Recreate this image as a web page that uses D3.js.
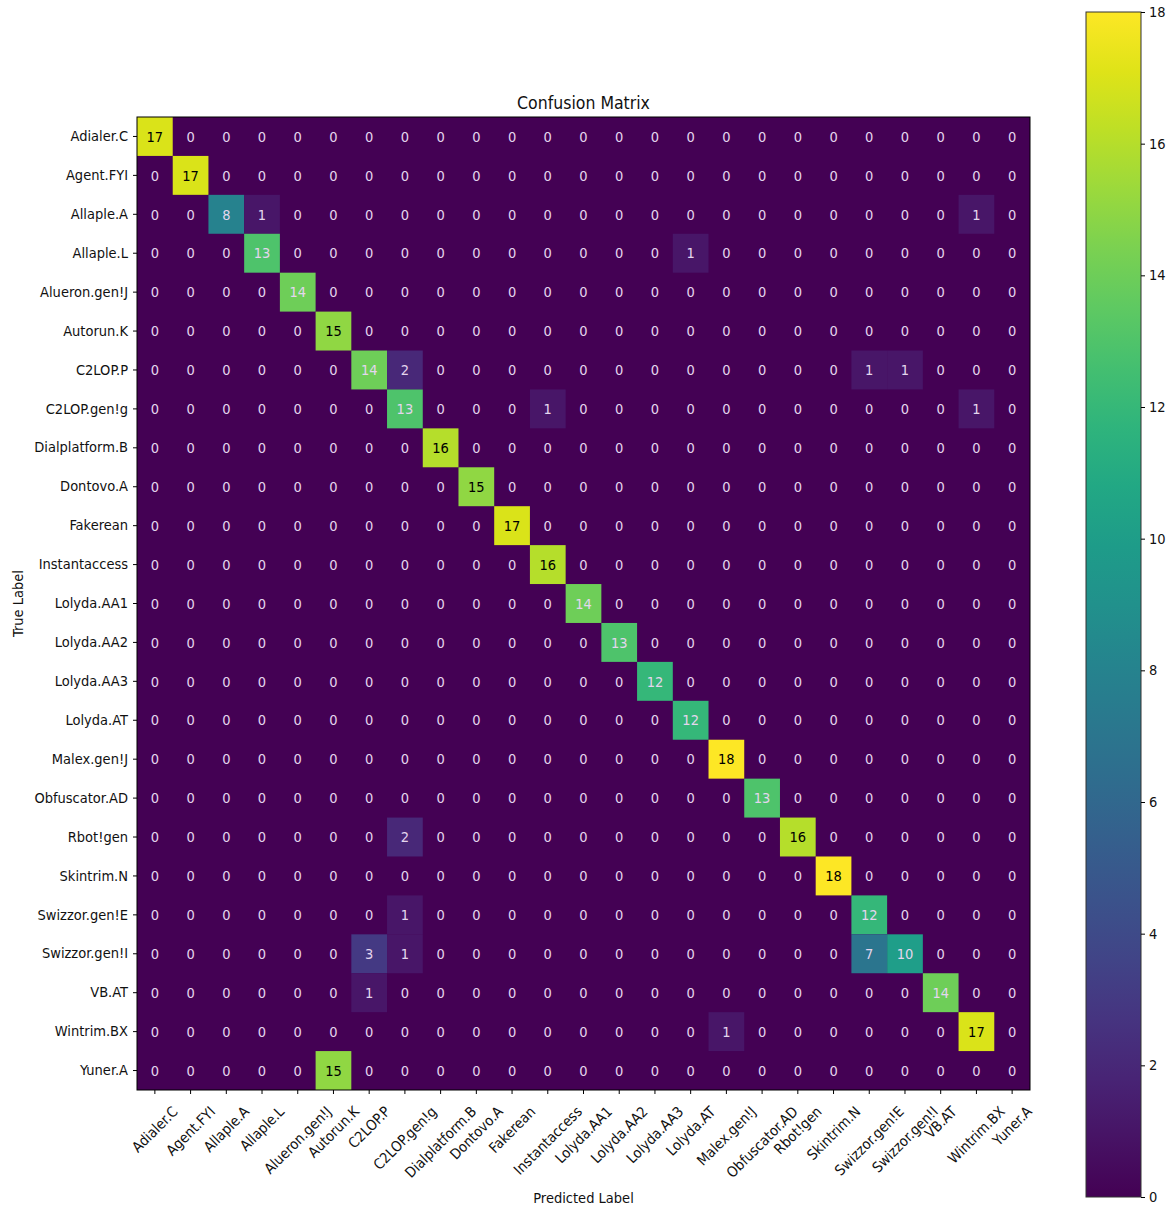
<!DOCTYPE html>
<html>
<head>
<meta charset="utf-8">
<script src="https://cdn.jsdelivr.net/npm/d3@7"></script>
<style>
  body { margin: 0; background: #fff; }
  text { font-family: "DejaVu Sans Condensed", "DejaVu Sans", sans-serif; font-stretch: condensed; }
</style>
</head>
<body>
<script>
// class names (same order for rows and columns)
const labels = ["Adialer.C","Agent.FYI","Allaple.A","Allaple.L","Alueron.gen!J","Autorun.K","C2LOP.P","C2LOP.gen!g",
  "Dialplatform.B","Dontovo.A","Fakerean","Instantaccess","Lolyda.AA1","Lolyda.AA2","Lolyda.AA3","Lolyda.AT",
  "Malex.gen!J","Obfuscator.AD","Rbot!gen","Skintrim.N","Swizzor.gen!E","Swizzor.gen!I","VB.AT","Wintrim.BX","Yuner.A"];

// confusion matrix, rows = true label, cols = predicted label
const matrix = [
  [17,0,0,0,0,0,0,0,0,0,0,0,0,0,0,0,0,0,0,0,0,0,0,0,0],
  [0,17,0,0,0,0,0,0,0,0,0,0,0,0,0,0,0,0,0,0,0,0,0,0,0],
  [0,0,8,1,0,0,0,0,0,0,0,0,0,0,0,0,0,0,0,0,0,0,0,1,0],
  [0,0,0,13,0,0,0,0,0,0,0,0,0,0,0,1,0,0,0,0,0,0,0,0,0],
  [0,0,0,0,14,0,0,0,0,0,0,0,0,0,0,0,0,0,0,0,0,0,0,0,0],
  [0,0,0,0,0,15,0,0,0,0,0,0,0,0,0,0,0,0,0,0,0,0,0,0,0],
  [0,0,0,0,0,0,14,2,0,0,0,0,0,0,0,0,0,0,0,0,1,1,0,0,0],
  [0,0,0,0,0,0,0,13,0,0,0,1,0,0,0,0,0,0,0,0,0,0,0,1,0],
  [0,0,0,0,0,0,0,0,16,0,0,0,0,0,0,0,0,0,0,0,0,0,0,0,0],
  [0,0,0,0,0,0,0,0,0,15,0,0,0,0,0,0,0,0,0,0,0,0,0,0,0],
  [0,0,0,0,0,0,0,0,0,0,17,0,0,0,0,0,0,0,0,0,0,0,0,0,0],
  [0,0,0,0,0,0,0,0,0,0,0,16,0,0,0,0,0,0,0,0,0,0,0,0,0],
  [0,0,0,0,0,0,0,0,0,0,0,0,14,0,0,0,0,0,0,0,0,0,0,0,0],
  [0,0,0,0,0,0,0,0,0,0,0,0,0,13,0,0,0,0,0,0,0,0,0,0,0],
  [0,0,0,0,0,0,0,0,0,0,0,0,0,0,12,0,0,0,0,0,0,0,0,0,0],
  [0,0,0,0,0,0,0,0,0,0,0,0,0,0,0,12,0,0,0,0,0,0,0,0,0],
  [0,0,0,0,0,0,0,0,0,0,0,0,0,0,0,0,18,0,0,0,0,0,0,0,0],
  [0,0,0,0,0,0,0,0,0,0,0,0,0,0,0,0,0,13,0,0,0,0,0,0,0],
  [0,0,0,0,0,0,0,2,0,0,0,0,0,0,0,0,0,0,16,0,0,0,0,0,0],
  [0,0,0,0,0,0,0,0,0,0,0,0,0,0,0,0,0,0,0,18,0,0,0,0,0],
  [0,0,0,0,0,0,0,1,0,0,0,0,0,0,0,0,0,0,0,0,12,0,0,0,0],
  [0,0,0,0,0,0,3,1,0,0,0,0,0,0,0,0,0,0,0,0,7,10,0,0,0],
  [0,0,0,0,0,0,1,0,0,0,0,0,0,0,0,0,0,0,0,0,0,0,14,0,0],
  [0,0,0,0,0,0,0,0,0,0,0,0,0,0,0,0,1,0,0,0,0,0,0,17,0],
  [0,0,0,0,0,15,0,0,0,0,0,0,0,0,0,0,0,0,0,0,0,0,0,0,0]
];

const colorTicks = [0,2,4,6,8,10,12,14,16,18];
const vmin = 0, vmax = 18;
const darkTextFrom = 15;

const W = 1172, H = 1205;
const mLeft = 137, mRight = 1030, mTop = 117, mBottom = 1090;
const cbLeft = 1086, cbRight = 1141, cbTop = 12, cbBottom = 1197;

const svg = d3.select("body").append("svg")
  .attr("width", W).attr("height", H);

const x = d3.scaleBand().domain(d3.range(labels.length)).range([mLeft, mRight]);
const y = d3.scaleBand().domain(d3.range(labels.length)).range([mTop, mBottom]);
const color = d3.scaleSequential(d3.interpolateViridis).domain([vmin, vmax]);

const cells = [];
matrix.forEach((row, i) => row.forEach((v, j) => cells.push({i, j, v})));

// background in the zero colour so no seams show between cells
svg.append("rect")
  .attr("x", mLeft).attr("y", mTop)
  .attr("width", mRight - mLeft).attr("height", mBottom - mTop)
  .attr("fill", color(0));

svg.append("g").selectAll("rect")
  .data(cells.filter(d => d.v > 0))
  .enter().append("rect")
  .attr("x", d => x(d.j))
  .attr("y", d => y(d.i))
  .attr("width", x.bandwidth())
  .attr("height", y.bandwidth())
  .attr("fill", d => color(d.v));

svg.append("g").selectAll("text")
  .data(cells)
  .enter().append("text")
  .attr("x", d => x(d.j) + x.bandwidth() / 2)
  .attr("y", d => y(d.i) + y.bandwidth() / 2)
  .attr("text-anchor", "middle")
  .attr("dy", "0.36em")
  .style("font-size", "14.5px")
  .attr("fill", d => d.v >= darkTextFrom ? "#000" : "#e4d6ee")
  .text(d => d.v);

// frame
svg.append("rect")
  .attr("x", mLeft).attr("y", mTop)
  .attr("width", mRight - mLeft).attr("height", mBottom - mTop)
  .attr("fill", "none").attr("stroke", "#000").attr("stroke-width", 1);

// y axis
const yAxis = svg.append("g")
  .attr("transform", `translate(${mLeft},0)`)
  .call(d3.axisLeft(y).tickFormat(i => labels[i]).tickSize(4).tickPadding(5).tickSizeOuter(0));
yAxis.select(".domain").remove();
yAxis.selectAll("text").style("font-size", "14.5px").attr("fill", "#111");

// x axis
const xAxis = svg.append("g")
  .attr("transform", `translate(0,${mBottom})`)
  .call(d3.axisBottom(x).tickFormat(i => labels[i]).tickSize(4).tickSizeOuter(0));
xAxis.select(".domain").remove();
xAxis.selectAll("text")
  .style("font-size", "14.5px")
  .attr("fill", "#111")
  .attr("text-anchor", "middle")
  .attr("dy", "0.35em")
  .attr("y", 0)
  .each(function() {
    const w = this.getComputedTextLength();
    const h = 14;
    const off = 14 + (w + h) / (2 * Math.SQRT2);
    d3.select(this).attr("transform", `translate(0,${off}) rotate(-45)`);
  });

// title and axis labels
svg.append("text")
  .attr("x", (mLeft + mRight) / 2).attr("y", mTop - 8)
  .attr("text-anchor", "middle")
  .style("font-size", "17.5px")
  .attr("fill", "#111")
  .text("Confusion Matrix");

svg.append("text")
  .attr("x", (mLeft + mRight) / 2).attr("y", 1203)
  .attr("text-anchor", "middle")
  .style("font-size", "14.5px")
  .attr("fill", "#111")
  .text("Predicted Label");

svg.append("text")
  .attr("transform", `translate(23,${(mTop + mBottom) / 2}) rotate(-90)`)
  .attr("text-anchor", "middle")
  .style("font-size", "14.5px")
  .attr("fill", "#111")
  .text("True Label");

// colorbar
const cbScale = d3.scaleLinear().domain([vmin, vmax]).range([cbBottom, cbTop]);
const defs = svg.append("defs");
const grad = defs.append("linearGradient")
  .attr("id", "viridis")
  .attr("x1", 0).attr("y1", 1).attr("x2", 0).attr("y2", 0);
grad.selectAll("stop")
  .data(d3.range(0, 1.0001, 0.05))
  .enter().append("stop")
  .attr("offset", d => d)
  .attr("stop-color", d => d3.interpolateViridis(d));

svg.append("rect")
  .attr("x", cbLeft).attr("y", cbTop)
  .attr("width", cbRight - cbLeft).attr("height", cbBottom - cbTop)
  .attr("fill", "url(#viridis)")
  .attr("stroke", "#333").attr("stroke-width", 1);

const cbAxis = svg.append("g")
  .attr("transform", `translate(${cbRight},0)`)
  .call(d3.axisRight(cbScale).tickValues(colorTicks).tickSize(4).tickPadding(4));
cbAxis.select(".domain").remove();
cbAxis.selectAll("text").style("font-size", "14.5px").attr("fill", "#111");
</script>
</body>
</html>
